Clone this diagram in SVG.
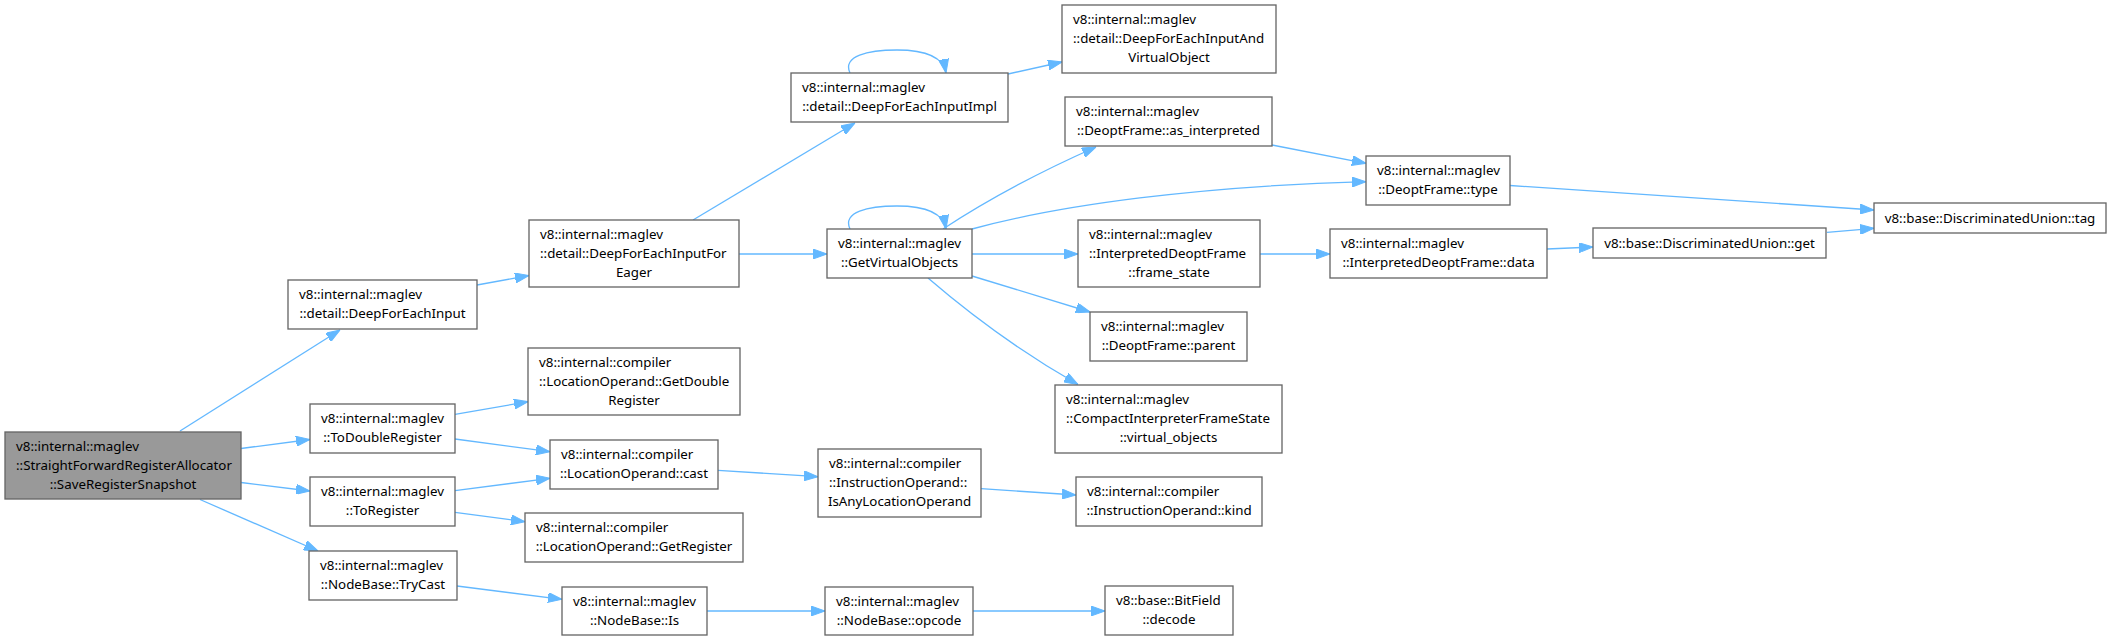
<svg xmlns="http://www.w3.org/2000/svg" width="2111" height="641" viewBox="0 0 2111 641">
<style>
.node rect{fill:#ffffff;stroke:#666666;stroke-width:1.33}
.root rect{fill:#999999}
text{font-family:"Noto Sans","Open Sans",sans-serif;font-size:13.33px;fill:#000000}
.m{text-anchor:middle}
.edge{fill:none;stroke:#63b8ff;stroke-width:1.33;marker-end:url(#arr)}
</style>
<defs>
<marker id="arr" markerUnits="userSpaceOnUse" viewBox="0 0 14 10" markerWidth="14" markerHeight="10" refX="14" refY="5" orient="auto">
<path d="M0,0 L14,5 L0,10 z" fill="#63b8ff" stroke="#63b8ff" stroke-width="1"/>
</marker>
</defs>
<rect width="2111" height="641" fill="#ffffff"/>
<g id="connectors">
<path class="edge" d="M180,431 L340,330"/>
<path class="edge" d="M241,448.5 L310,439.5"/>
<path class="edge" d="M241,482.5 L310,491"/>
<path class="edge" d="M200,499.5 L318,551"/>
<path class="edge" d="M477,285 L529,275.5"/>
<path class="edge" d="M693,220 L855,123"/>
<path class="edge" d="M739,254 L827,254"/>
<path class="edge" d="M850,73 C842,56 868,50 897,50 C922,50 943,56 946,73"/>
<path class="edge" d="M850,229 C842,212 868,206 897,206 C922,206 943,212 946,229"/>
<path class="edge" d="M1008,74 L1062,62"/>
<path class="edge" d="M943,229 Q1010,185 1096,147"/>
<path class="edge" d="M972,229 C1060,205 1200,186 1366,181.7"/>
<path class="edge" d="M972,254 L1078,254"/>
<path class="edge" d="M972,276 L1090,312"/>
<path class="edge" d="M928,278 Q1000,340 1078,384.5"/>
<path class="edge" d="M1272,145 L1366,163.3"/>
<path class="edge" d="M1510,185.5 L1874,210"/>
<path class="edge" d="M1260,254 L1330,254"/>
<path class="edge" d="M1547,249 L1593,247"/>
<path class="edge" d="M1827,232.3 L1874,228.3"/>
<path class="edge" d="M718,470.3 L818,476.7"/>
<path class="edge" d="M981,488.7 L1076,495"/>
<path class="edge" d="M706,611 L825,611"/>
<path class="edge" d="M973,611 L1105,611"/>
<path class="edge" d="M455,414.3 L528,401.7"/>
<path class="edge" d="M455,439 L550,451.7"/>
<path class="edge" d="M455,490.7 L550,478.3"/>
<path class="edge" d="M455,512.3 L525,521.7"/>
<path class="edge" d="M457,586 L562,599.3"/>
</g>
<g id="n0" class="node root"><rect x="5" y="432" width="236" height="67"/><text x="16" y="450.5">v8::internal::maglev</text><text x="16" y="469.5">::StraightForwardRegisterAllocator</text><text class="m" x="123" y="488.5">::SaveRegisterSnapshot</text></g>
<g id="n1" class="node"><rect x="288" y="280" width="189" height="49"/><text x="299" y="298.5">v8::internal::maglev</text><text class="m" x="382.5" y="317.5">::detail::DeepForEachInput</text></g>
<g id="n2" class="node"><rect x="310" y="404" width="145" height="49"/><text x="321" y="422.5">v8::internal::maglev</text><text class="m" x="382.5" y="441.5">::ToDoubleRegister</text></g>
<g id="n3" class="node"><rect x="310" y="477" width="145" height="49"/><text x="321" y="495.5">v8::internal::maglev</text><text class="m" x="382.5" y="514.5">::ToRegister</text></g>
<g id="n4" class="node"><rect x="309" y="551" width="148" height="49"/><text x="320" y="569.5">v8::internal::maglev</text><text class="m" x="383" y="588.5">::NodeBase::TryCast</text></g>
<g id="n5" class="node"><rect x="529" y="220" width="210" height="67"/><text x="540" y="238.5">v8::internal::maglev</text><text x="540" y="257.5">::detail::DeepForEachInputFor</text><text class="m" x="634" y="276.5">Eager</text></g>
<g id="n6" class="node"><rect x="528" y="348" width="212" height="67"/><text x="539" y="366.5">v8::internal::compiler</text><text x="539" y="385.5">::LocationOperand::GetDouble</text><text class="m" x="634" y="404.5">Register</text></g>
<g id="n7" class="node"><rect x="550" y="440" width="168" height="49"/><text x="561" y="458.5">v8::internal::compiler</text><text class="m" x="634" y="477.5">::LocationOperand::cast</text></g>
<g id="n8" class="node"><rect x="525" y="513" width="218" height="49"/><text x="536" y="531.5">v8::internal::compiler</text><text class="m" x="634" y="550.5">::LocationOperand::GetRegister</text></g>
<g id="n9" class="node"><rect x="562" y="587" width="145" height="48"/><text x="573" y="605.5">v8::internal::maglev</text><text class="m" x="634.5" y="624.5">::NodeBase::Is</text></g>
<g id="n10" class="node"><rect x="791" y="73" width="217" height="49"/><text x="802" y="91.5">v8::internal::maglev</text><text class="m" x="899.5" y="110.5">::detail::DeepForEachInputImpl</text></g>
<g id="n11" class="node"><rect x="827" y="229" width="145" height="49"/><text x="838" y="247.5">v8::internal::maglev</text><text class="m" x="899.5" y="266.5">::GetVirtualObjects</text></g>
<g id="n12" class="node"><rect x="818" y="449" width="163" height="68"/><text x="829" y="467.5">v8::internal::compiler</text><text x="829" y="486.5">::InstructionOperand::</text><text class="m" x="899.5" y="505.5">IsAnyLocationOperand</text></g>
<g id="n13" class="node"><rect x="825" y="587" width="148" height="48"/><text x="836" y="605.5">v8::internal::maglev</text><text class="m" x="899" y="624.5">::NodeBase::opcode</text></g>
<g id="n14" class="node"><rect x="1062" y="5" width="214" height="68"/><text x="1073" y="23.5">v8::internal::maglev</text><text x="1073" y="42.5">::detail::DeepForEachInputAnd</text><text class="m" x="1169" y="61.5">VirtualObject</text></g>
<g id="n15" class="node"><rect x="1065" y="97" width="207" height="49"/><text x="1076" y="115.5">v8::internal::maglev</text><text class="m" x="1168.5" y="134.5">::DeoptFrame::as_interpreted</text></g>
<g id="n16" class="node"><rect x="1078" y="220" width="182" height="67"/><text x="1089" y="238.5">v8::internal::maglev</text><text x="1089" y="257.5">::InterpretedDeoptFrame</text><text class="m" x="1169" y="276.5">::frame_state</text></g>
<g id="n17" class="node"><rect x="1090" y="312" width="157" height="49"/><text x="1101" y="330.5">v8::internal::maglev</text><text class="m" x="1168.5" y="349.5">::DeoptFrame::parent</text></g>
<g id="n18" class="node"><rect x="1055" y="385" width="227" height="68"/><text x="1066" y="403.5">v8::internal::maglev</text><text x="1066" y="422.5">::CompactInterpreterFrameState</text><text class="m" x="1168.5" y="441.5">::virtual_objects</text></g>
<g id="n19" class="node"><rect x="1076" y="477" width="186" height="49"/><text x="1087" y="495.5">v8::internal::compiler</text><text class="m" x="1169" y="514.5">::InstructionOperand::kind</text></g>
<g id="n20" class="node"><rect x="1105" y="586" width="128" height="49"/><text x="1116" y="604.5">v8::base::BitField</text><text class="m" x="1169" y="623.5">::decode</text></g>
<g id="n21" class="node"><rect x="1366" y="156" width="144" height="49"/><text x="1377" y="174.5">v8::internal::maglev</text><text class="m" x="1438" y="193.5">::DeoptFrame::type</text></g>
<g id="n22" class="node"><rect x="1330" y="229" width="217" height="49"/><text x="1341" y="247.5">v8::internal::maglev</text><text class="m" x="1438.5" y="266.5">::InterpretedDeoptFrame::data</text></g>
<g id="n23" class="node"><rect x="1593" y="228" width="233" height="30"/><text class="m" x="1709.5" y="248">v8::base::DiscriminatedUnion::get</text></g>
<g id="n24" class="node"><rect x="1874" y="203" width="232" height="30"/><text class="m" x="1990" y="223">v8::base::DiscriminatedUnion::tag</text></g>
</svg>
